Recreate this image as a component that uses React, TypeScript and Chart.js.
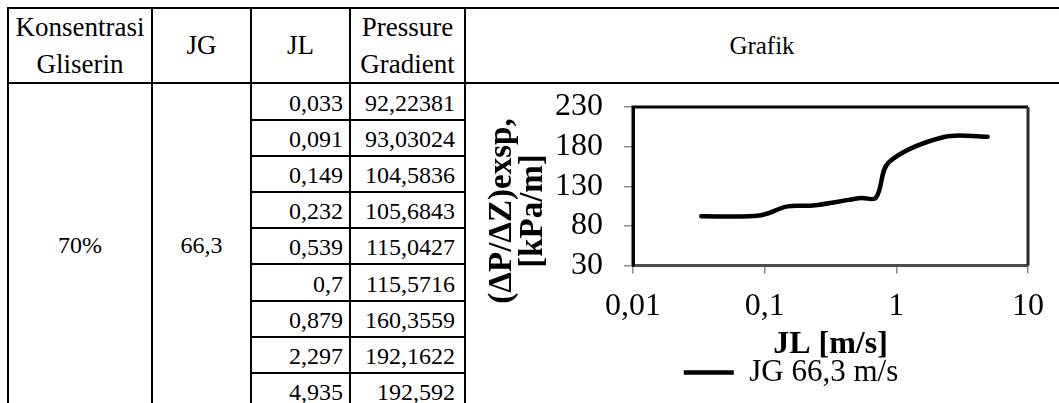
import React, { useEffect, useRef } from "react";
import { Chart, registerables } from "chart.js";

Chart.register(...registerables);

// ---- data ----
const jlValues = [0.033, 0.091, 0.149, 0.232, 0.539, 0.7, 0.879, 2.297, 4.935];
const pressureValues = [92.22381, 93.03024, 104.5836, 105.6843, 115.0427, 115.5716, 160.3559, 192.1622, 192.592];
const concentrationLabel = "70%";
const jgLabel = "66,3";
const seriesLabel = "JG 66,3 m/s";
const xTickValues = [0.01, 0.1, 1, 10];
const yTickMin = 30;
const yTickMax = 230;
const yTickStep = 50;
const headerLabels = [["Konsentrasi", "Gliserin"], ["JG"], ["JL"], ["Pressure", "Gradient"], ["Grafik"]];
const xAxisTitle = "JL [m/s]";
const yAxisTitle = ["(ΔP/ΔZ)exsp,", "[kPa/m]"];

const FONT = '"Liberation Serif", "Times New Roman", serif';
const fmt = (v: number) => String(v).replace(".", ",");

// ---- layout (page px) ----
const colX = [8, 152, 251, 350, 465];
const tableRight = 1059;
const topY = 8;
const headY = 83.3;
const rowH = 36.2;
const bottomY = 403;
const CANVAS_W = 650;
const CANVAS_H = 319;

function LineH({ x1, x2, y }: { x1: number; x2: number; y: number }) {
  return <div style={{ position: "absolute", left: x1 - 1, top: y - 1, width: x2 - x1 + 2, height: 2, background: "#000" }} />;
}
function LineV({ x, y1, y2 }: { x: number; y1: number; y2: number }) {
  return <div style={{ position: "absolute", left: x - 1, top: y1 - 1, width: 2, height: y2 - y1 + 1, background: "#000" }} />;
}

const plotBorder = {
  id: "plotBorder",
  beforeDatasetsDraw(chart: any) {
    const { ctx, chartArea } = chart;
    const { left, right, top, bottom } = chartArea;
    ctx.save();
    ctx.lineWidth = 3;
    ctx.strokeStyle = "#000";
    ctx.beginPath();
    ctx.moveTo(left, bottom);
    ctx.lineTo(left, top);
    ctx.lineTo(right, top);
    ctx.stroke();
    ctx.strokeStyle = "#2a2a2a";
    ctx.beginPath();
    ctx.moveTo(right, top);
    ctx.lineTo(right, bottom);
    ctx.stroke();
    ctx.restore();
  },
};

function PressureChart() {
  const ref = useRef<HTMLCanvasElement | null>(null);
  useEffect(() => {
    if (!ref.current) return;
    const chart = new Chart(ref.current, {
      type: "line",
      data: {
        datasets: [
          {
            label: seriesLabel,
            data: jlValues.map((x, i) => ({ x, y: pressureValues[i] })),
            borderColor: "#000",
            backgroundColor: "#000",
            borderWidth: 4.5,
            pointRadius: 0,
            tension: 0.35,
            borderCapStyle: "round",
            borderJoinStyle: "round",
            fill: false,
          },
        ],
      },
      options: {
        responsive: false,
        animation: false,
        devicePixelRatio: 1,
        layout: { padding: { left: 0, right: 0, top: 23, bottom: 5 } },
        plugins: {
          tooltip: { enabled: false },
          legend: {
            display: true,
            position: "bottom",
            labels: {
              usePointStyle: true,
              pointStyle: "line",
              pointStyleWidth: 50,
              color: "#000",
              padding: 0,
              font: { family: FONT, size: 31 },
            },
          },
        },
        scales: {
          x: {
            type: "logarithmic",
            min: 0.01,
            max: 10,
            afterBuildTicks: (s: any) => {
              s.ticks = xTickValues.map((v) => ({ value: v }));
            },
            afterFit: (s: any) => {
              s.height = 91.5;
              s.paddingLeft = 0;
              s.paddingRight = 88;
            },
            ticks: {
              autoSkip: false,
              maxRotation: 0,
              color: "#000",
              padding: 14,
              font: { family: FONT, size: 32 },
              callback: (v: any) => fmt(Number(v)),
            },
            grid: { drawOnChartArea: false, drawTicks: true, tickLength: 8, color: "#8c8c8c", lineWidth: 1.5 },
            border: { display: true, color: "#4d4d4d", width: 3 },
            title: {
              display: true,
              text: xAxisTitle,
              color: "#000",
              font: { family: FONT, size: 32, weight: "bold", lineHeight: 0.75 },
              padding: { top: 0, bottom: 0 },
            },
          },
          y: {
            type: "linear",
            min: yTickMin,
            max: yTickMax,
            afterFit: (s: any) => {
              s.width = 167;
              s.paddingTop = 0;
              s.paddingBottom = 0;
            },
            ticks: {
              stepSize: yTickStep,
              autoSkip: false,
              color: "#000",
              padding: 21,
              font: { family: FONT, size: 32 },
            },
            grid: { drawOnChartArea: false, drawTicks: true, tickLength: 9, color: "#8c8c8c", lineWidth: 1.5 },
            border: { display: true, color: "#000", width: 3 },
            title: {
              display: true,
              text: yAxisTitle.map((t) => t + "      "),
              color: "#000",
              font: { family: FONT, size: 33, weight: "bold", lineHeight: 0.94 },
              padding: { top: 20.5, bottom: 0 },
            },
          },
        },
      },
      plugins: [plotBorder],
    });
    return () => chart.destroy();
  }, []);
  return <canvas ref={ref} width={CANVAS_W} height={CANVAS_H} style={{ display: "block", width: CANVAS_W, height: CANVAS_H }} />;
}

export default function App() {
  const rowLines = jlValues.map((_, i) => headY + rowH * (i + 1)).slice(0, jlValues.length - 1);
  const textBase: React.CSSProperties = { position: "absolute", fontFamily: FONT, color: "#000", whiteSpace: "nowrap" };
  return (
    <div style={{ position: "absolute", left: 0, top: 0, width: 1059, height: 403, overflow: "hidden", background: "#fff" }}>
      {/* header texts */}
      {headerLabels.map((lines, i) => {
        const x1 = colX[i];
        const x2 = i + 1 < colX.length ? colX[i + 1] : tableRight;
        const size = i === 4 ? 25 : 27;
        return (
          <div
            key={"h" + i}
            style={{
              ...textBase,
              left: x1,
              top: topY,
              width: x2 - x1,
              height: headY - topY,
              display: "flex",
              flexDirection: "column",
              justifyContent: "center",
              alignItems: "center",
              fontSize: size,
              lineHeight: "37px",
            }}
          >
            {lines.map((l) => (
              <div key={l}>{l}</div>
            ))}
          </div>
        );
      })}
      {/* merged cells */}
      <div style={{ ...textBase, left: colX[0], width: colX[1] - colX[0], top: 232, textAlign: "center", fontSize: 24, lineHeight: "27px" }}>
        {concentrationLabel}
      </div>
      <div style={{ ...textBase, left: colX[1], width: colX[2] - colX[1], top: 232, textAlign: "center", fontSize: 24, lineHeight: "27px" }}>
        {jgLabel}
      </div>
      {/* data rows */}
      {jlValues.map((v, i) => {
        const rowBottom = headY + rowH * (i + 1);
        return (
          <React.Fragment key={"r" + i}>
            <div style={{ ...textBase, left: colX[2], width: colX[3] - colX[2] - 7, top: rowBottom - 30, textAlign: "right", fontSize: 24, lineHeight: "27px" }}>
              {fmt(v)}
            </div>
            <div style={{ ...textBase, left: colX[3], width: colX[4] - colX[3] - 10, top: rowBottom - 30, textAlign: "right", fontSize: 24, lineHeight: "27px" }}>
              {fmt(pressureValues[i])}
            </div>
          </React.Fragment>
        );
      })}
      {/* borders */}
      <LineH x1={colX[0]} x2={tableRight + 2} y={topY} />
      <LineH x1={colX[0]} x2={tableRight + 2} y={headY} />
      {rowLines.map((y, i) => (
        <LineH key={"rl" + i} x1={colX[2]} x2={colX[4]} y={y} />
      ))}
      {colX.map((x, i) => (
        <LineV key={"v" + i} x={x} y1={topY} y2={bottomY + 2} />
      ))}
      {/* chart */}
      <div style={{ position: "absolute", left: 466, top: 84, width: CANVAS_W, height: CANVAS_H }}>
        <PressureChart />
      </div>
    </div>
  );
}
